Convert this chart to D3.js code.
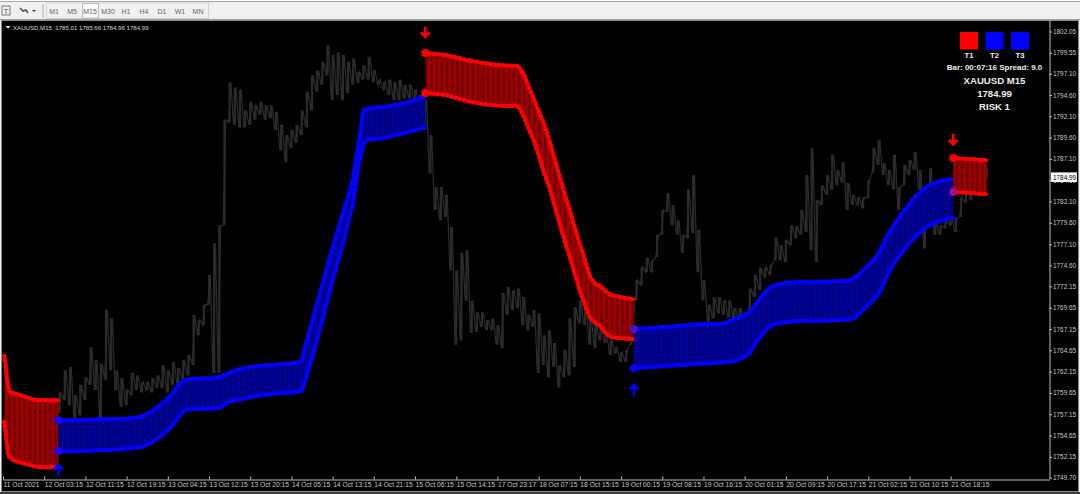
<!DOCTYPE html>
<html><head><meta charset="utf-8">
<script src="https://cdn.jsdelivr.net/npm/d3@7/dist/d3.min.js"></script>
<style>
html,body{margin:0;padding:0;background:#f0f0f0;overflow:hidden}
svg{display:block}
text{font-family:"Liberation Sans",Arial,sans-serif}
</style></head><body><svg id="c" width="1080" height="494"></svg>
<script>
const timeLabels=["11 Oct 2021","12 Oct 03:15","12 Oct 11:15","12 Oct 19:15","13 Oct 04:15","13 Oct 12:15","13 Oct 20:15","14 Oct 05:15","14 Oct 13:15","14 Oct 21:15","15 Oct 06:15","15 Oct 14:15","17 Oct 23:17","18 Oct 07:15","18 Oct 15:15","19 Oct 00:15","19 Oct 08:15","19 Oct 16:15","20 Oct 01:15","20 Oct 09:15","20 Oct 17:15","21 Oct 02:15","21 Oct 10:15","21 Oct 18:15"];
const priceLabels=["1802.05","1799.55","1797.10","1794.60","1792.10","1789.60","1787.10","1784.60","1782.10","1779.60","1777.10","1774.60","1772.15","1769.65","1767.15","1764.65","1762.15","1759.65","1757.15","1754.65","1752.15","1749.70"];
const periods=["M1","M5","M15","M30","H1","H4","D1","W1","MN"];
const trendLabels=["T1","T2","T3"];
const trendColors=["#ff0000","#0000ff","#0000ff"];

// Price highs/lows, one reading every 4 bars starting at bar 44
const priceHigh=[1759.7,1762.3,1762.7,1759.4,1760.6,1761.5,1765.0,1763.5,1763.1,1769.4,1768.4,1762.3,1761.4,1760.0,1762.0,1761.7,1760.9,1760.9,1761.4,1761.7,1762.9,1762.3,1763.3,1762.6,1763.5,1764.1,1768.8,1768.2,1770.0,1773.5,1777.2,1779.3,1791.7,1796.1,1795.5,1795.2,1792.8,1793.8,1793.4,1793.8,1793.4,1793.4,1792.6,1791.1,1789.9,1790.5,1791.1,1792.8,1795.0,1796.9,1797.5,1798.5,1800.5,1799.3,1799.6,1799.3,1798.5,1798.9,1797.3,1798.1,1799.1,1797.5,1796.4,1796.1,1796.4,1796.1,1796.4,1795.8,1795.8,1795.2,1794.6,1794.0,1789.9,1783.8,1783.8,1782.9,1779.1,1774.0,1776.1,1776.4,1770.5,1769.1,1769.1,1768.2,1768.4,1767.6,1771.4,1772.1,1771.7,1771.9,1770.9,1768.8,1769.4,1769.0,1766.4,1767.0,1765.5,1762.9,1764.7,1768.4,1769.7,1770.5,1770.0,1768.8,1767.6,1767.4,1766.7,1765.8,1765.0,1764.4,1764.7,1766.4,1772.9,1774.4,1775.5,1775.2,1778.2,1781.1,1783.1,1781.7,1779.9,1778.2,1783.5,1785.2,1778.8,1772.9,1770.0,1770.9,1770.9,1770.5,1770.5,1769.6,1769.6,1769.1,1771.9,1773.5,1774.3,1774.4,1774.7,1777.9,1777.0,1777.6,1779.3,1779.2,1781.1,1785.2,1788.4,1782.3,1784.0,1785.2,1787.6,1785.8,1786.7,1784.3,1782.9,1782.6,1782.6,1784.6,1788.4,1789.3,1786.6,1785.8,1787.6,1783.8,1786.4,1787.0,1787.9,1785.8,1782.3,1786.0,1779.6,1779.3,1779.9,1780.5,1780.2,1782.6,1783.5,1784.6,1785.2,1785.8,1786.0];
const priceLow=[1757.3,1758.8,1758.2,1756.7,1757.0,1758.8,1760.6,1760.0,1756.7,1761.2,1762.3,1760.0,1758.0,1758.2,1759.4,1760.0,1759.7,1760.0,1759.7,1760.2,1760.2,1759.7,1760.6,1760.6,1761.2,1761.7,1762.9,1766.4,1767.6,1770.0,1762.0,1762.0,1779.3,1791.4,1791.1,1790.8,1790.8,1791.1,1791.7,1792.3,1791.7,1791.9,1790.5,1788.1,1786.7,1788.4,1789.0,1789.9,1790.8,1792.8,1795.0,1795.8,1796.9,1794.0,1794.6,1794.0,1794.8,1795.8,1796.0,1796.4,1796.4,1796.1,1795.8,1795.2,1794.6,1794.0,1794.0,1794.2,1794.2,1794.0,1793.4,1790.5,1785.4,1781.1,1779.9,1780.3,1774.0,1765.3,1765.8,1770.5,1766.7,1766.8,1767.4,1767.0,1767.0,1765.3,1764.9,1768.8,1769.4,1769.6,1767.6,1767.0,1767.4,1762.0,1762.9,1761.5,1762.7,1760.3,1761.5,1761.7,1762.7,1767.8,1767.6,1765.3,1764.9,1765.8,1765.5,1764.1,1764.3,1763.3,1763.3,1765.3,1770.5,1772.3,1773.8,1773.8,1775.6,1778.2,1780.9,1779.3,1778.2,1776.1,1777.8,1778.4,1773.8,1770.5,1768.0,1768.4,1769.0,1768.8,1768.5,1768.4,1768.2,1768.4,1769.0,1770.9,1771.7,1773.2,1773.5,1775.2,1775.2,1775.0,1777.0,1777.8,1778.2,1778.5,1776.4,1775.0,1781.7,1782.9,1783.5,1784.0,1784.3,1781.1,1781.7,1781.7,1781.3,1782.5,1785.5,1786.4,1785.2,1784.0,1783.5,1781.1,1784.0,1785.2,1785.8,1783.5,1776.6,1782.3,1778.2,1778.2,1779.0,1779.3,1778.5,1780.3,1782.0,1782.3,1783.5,1783.5,1784.9];

// Trend bands
const red1Bars=[1,2,3,4,5,6,8,12,16,20,24,28,32,36,40,43];
const red1Upper=[1763.97,1763.03,1761.62,1760.45,1759.86,1759.74,1759.62,1759.45,1759.27,1759.04,1758.86,1758.80,1758.80,1758.80,1758.80,1758.80];
const red1Lower=[1756.22,1755.05,1753.64,1752.46,1752.11,1751.99,1751.76,1751.53,1751.41,1751.23,1751.06,1750.94,1750.94,1750.94,1750.94,1750.94];

const blue1Bars=[43,52,60,68,76,84,92,100,108,116,124,132,136,140,144,152,160,168,176,184,192,200,208,216,224,232,236,240,244,248,252,256,260,264,268,272,276,280,284,288,296,304,312,320,328];
const blue1Upper=[1756.45,1756.45,1756.45,1756.51,1756.57,1756.57,1756.57,1756.69,1756.87,1757.51,1758.45,1759.62,1760.56,1761.09,1761.27,1761.33,1761.38,1761.50,1762.03,1762.44,1762.68,1762.85,1762.91,1763.03,1763.09,1763.38,1765.84,1767.96,1770.19,1772.30,1774.53,1776.64,1778.76,1780.75,1782.63,1784.98,1788.73,1792.84,1793.07,1793.13,1793.19,1793.43,1793.66,1794.01,1794.48];
const blue1Lower=[1752.82,1752.76,1752.82,1752.88,1752.93,1752.93,1753.05,1753.17,1753.29,1753.87,1754.69,1755.87,1756.69,1757.51,1757.75,1757.80,1757.80,1757.86,1758.68,1758.86,1759.15,1759.39,1759.51,1759.62,1759.68,1759.86,1761.74,1763.73,1765.84,1768.19,1770.54,1772.89,1775.00,1777.23,1779.69,1781.92,1786.38,1788.97,1789.44,1789.44,1789.55,1789.85,1790.14,1790.49,1790.84];

const red2Bars=[328,336,344,352,360,368,376,384,392,400,404,408,412,416,420,424,428,432,436,440,444,448,452,456,460,464,468,472,480,488,490];
const red2Upper=[1799.53,1799.41,1799.29,1799.00,1798.71,1798.47,1798.30,1798.12,1798.06,1798.00,1797.18,1795.66,1794.25,1792.72,1791.31,1789.44,1787.32,1785.21,1783.10,1781.22,1779.11,1777.11,1775.23,1773.24,1772.42,1772.18,1771.60,1771.13,1770.89,1770.66,1770.66];
const red2Lower=[1794.83,1794.72,1794.60,1794.25,1793.90,1793.66,1793.48,1793.37,1793.31,1793.31,1792.25,1790.73,1789.32,1787.56,1785.56,1783.92,1781.81,1779.69,1777.58,1775.70,1773.71,1771.60,1769.95,1768.43,1767.84,1767.49,1766.67,1766.20,1766.08,1765.96,1765.96];

const blue2Bars=[490,496,504,512,520,528,536,544,552,560,568,576,580,584,588,592,596,600,608,616,624,632,640,648,656,660,664,668,672,676,680,684,688,692,696,700,704,708,712,716,720,728,736,738];
const blue2Upper=[1767.14,1767.19,1767.25,1767.37,1767.43,1767.55,1767.66,1767.72,1767.72,1767.78,1768.31,1768.78,1769.13,1769.95,1770.77,1771.48,1772.06,1772.30,1772.53,1772.65,1772.65,1772.65,1772.71,1772.77,1772.83,1773.00,1773.47,1774.06,1774.65,1775.23,1775.94,1777.23,1778.40,1779.34,1780.28,1781.10,1781.81,1782.63,1783.10,1783.68,1784.04,1784.51,1784.74,1784.74];
const blue2Lower=[1762.56,1762.62,1762.67,1762.79,1762.85,1762.91,1763.03,1763.09,1763.14,1763.26,1763.38,1763.85,1764.32,1765.37,1766.20,1766.90,1767.49,1767.72,1767.96,1768.07,1768.07,1768.07,1768.13,1768.19,1768.25,1768.31,1768.78,1769.37,1769.95,1770.54,1771.24,1772.53,1773.83,1774.88,1775.70,1776.41,1777.23,1777.82,1778.40,1778.99,1779.34,1779.81,1780.16,1780.16];

const red3Bars=[738,744,752,760,764];
const red3Upper=[1787.21,1787.15,1787.09,1786.97,1786.97];
const red3Lower=[1783.21,1783.16,1783.10,1782.98,1782.98];

const arrowBars=[328,738,43,490];
const arrowPrices=[1802.0,1789.4,1750.6,1760.0];
const arrowDirs=["down","down","up","up"];
const lastPrice=1784.99;

const W=1080,H=494,barsPerTick=32;
const svg=d3.select("#c");
const x=d3.scaleLinear().domain([0,barsPerTick*23]).range([3,950.7]);
const y=d3.scaleLinear().domain([1749.70,1802.05]).range([477.7,31.5]);

// window chrome
svg.append("rect").attr("width",W).attr("height",H).attr("fill","#f0f0f0");
svg.append("rect").attr("x",0).attr("y",0).attr("width",W).attr("height",1).attr("fill","#fff");
svg.append("rect").attr("x",0).attr("y",1).attr("width",W).attr("height",1).attr("fill","#a8a8a8");
const tb=svg.append("g");
tb.append("rect").attr("x",2).attr("y",6).attr("width",8).attr("height",9).attr("fill","none").attr("stroke","#777");
tb.append("text").attr("x",6).attr("y",14).attr("text-anchor","middle").attr("font-size",8).attr("fill","#555").text("T");
tb.append("path").attr("d","M20 8l3 3l3-1l2 3").attr("fill","none").attr("stroke","#555").attr("stroke-width",1.6);
tb.append("path").attr("d","M32 10h4l-2 2z").attr("fill","#333");
tb.append("rect").attr("x",42).attr("y",4).attr("width",2).attr("height",14).attr("fill","#cfcfcf");
tb.append("rect").attr("x",46.5).attr("y",3).attr("width",162).attr("height",15.5).attr("fill","none").attr("stroke","#d4d4d4");
const perX=d3.scalePoint().domain(periods).range([54,198]);
tb.append("rect").attr("x",82.5).attr("y",3.5).attr("width",16).attr("height",14.5).attr("fill","#fafafa").attr("stroke","#bbb");
tb.selectAll("text.p").data(periods).join("text").attr("class","p").attr("x",d=>perX(d)).attr("y",14).attr("text-anchor","middle").attr("font-size",7).attr("fill","#666").text(d=>d);

// chart window
svg.append("rect").attr("x",0).attr("y",19).attr("width",W).attr("height",1).attr("fill","#a0a0a0");
svg.append("rect").attr("x",2).attr("y",20).attr("width",1076).attr("height",471).attr("fill","#000");
svg.append("rect").attr("x",1.5).attr("y",20.5).attr("width",1077).attr("height",471).attr("fill","none").attr("stroke","#8c8c8c");
svg.append("rect").attr("x",0).attr("y",492).attr("width",W).attr("height",2).attr("fill","#3a3a3a");

const defs=svg.append("defs");
function stripes(id,light,dark){
  const step=x(4)-x(0);
  const p=defs.append("pattern").attr("id",id).attr("patternUnits","userSpaceOnUse").attr("width",step).attr("height",10).attr("x",x(0));
  p.append("rect").attr("width",step).attr("height",10).attr("fill",light);
  p.append("rect").attr("width",step*0.42).attr("height",10).attr("fill",dark);
}
stripes("rs","#a00000","#6c0000");
stripes("bs","#0000a0","#000070");

// price series
const startBar=44,stepBar=4;
const bar=i=>startBar+i*stepBar;
const priceColor="#2b2b2b";
const pr=svg.append("g").attr("stroke",priceColor).attr("fill","none");
pr.selectAll("line").data(priceHigh).join("line")
 .attr("x1",(d,i)=>x(bar(i))).attr("x2",(d,i)=>x(bar(i)))
 .attr("y1",d=>y(d)).attr("y2",(d,i)=>y(priceLow[i])).attr("stroke-width",2.2);
const zig=[];
priceHigh.forEach((h,i)=>{zig.push([x(bar(i))-1.3,y(priceLow[i])]);zig.push([x(bar(i))+1.3,y(h)]);});
pr.append("path").attr("d",d3.line()(zig)).attr("stroke-width",1.2);

// bands
function band(bars,up,lo,cls,color,pat){
  const d=bars.map((b,i)=>({b,u:up[i],l:lo[i]}));
  const g=svg.append("g").attr("class",cls);
  g.append("path").attr("d",d3.area().x(e=>x(e.b)).y0(e=>y(e.l)).y1(e=>y(e.u))(d)).attr("fill",`url(#${pat})`);
  ["u","l"].forEach(k=>{
    const path=d3.line().x(e=>x(e.b)).y(e=>y(e[k]))(d);
    g.append("path").attr("d",path).attr("fill","none").attr("stroke",color).attr("stroke-width",3.2).attr("stroke-linejoin","round").attr("stroke-linecap","round");
    g.append("path").attr("d",path).attr("fill","none").attr("stroke",color).attr("stroke-width",4.6).attr("stroke-linecap","round").attr("stroke-dasharray","0 4.4");
  });
}
band(red1Bars,red1Upper,red1Lower,"red1","#ff0000","rs");
band(blue1Bars,blue1Upper,blue1Lower,"blue1","#0000ff","bs");
band(red2Bars,red2Upper,red2Lower,"red2","#ff0000","rs");
band(blue2Bars,blue2Upper,blue2Lower,"blue2","#0000ff","bs");
band(red3Bars,red3Upper,red3Lower,"red3","#ff0000","rs");

// trend-start dots
const starts=[[blue1Bars[0],blue1Upper[0],"#1a08ee"],[blue1Bars[0],blue1Lower[0],"#1a08ee"],[red2Bars[0],red2Upper[0],"#ff0000"],[red2Bars[0],red2Lower[0],"#ff0000"],[blue2Bars[0],blue2Upper[0],"#4412cc"],[blue2Bars[0],blue2Lower[0],"#0000ff"],[red3Bars[0],red3Upper[0],"#ff0000"],[red3Bars[0],red3Lower[0],"#a0108c"]];
svg.selectAll("circle.st").data(starts).join("circle").attr("class","st").attr("cx",d=>x(d[0])).attr("cy",d=>y(d[1])).attr("r",4).attr("fill",d=>d[2]);

// arrows
const ag=svg.append("g").attr("fill","none").attr("stroke-width",2.6);
arrowBars.forEach((b,i)=>{
  const px=x(b),py=y(arrowPrices[i]),dir=arrowDirs[i];
  const s=dir==="down"?1:-1;
  ag.append("path").attr("d",`M${px} ${py-5.5*s}V${py+5*s}M${px-4.5} ${py+0.5*s}L${px} ${py+5*s}L${px+4.5} ${py+0.5*s}`).attr("stroke",dir==="down"?"#ff0000":"#0000ff");
});

// axes
const yAxis=d3.axisRight(y).tickValues(priceLabels.map(Number)).tickFormat((d,i)=>priceLabels[i]).tickSize(2.5).tickPadding(1);
const yg=svg.append("g").attr("transform","translate(1049.5,0)").call(yAxis);
yg.select(".domain").attr("d","M0.5 20V479").attr("stroke","#c0c0c0");
yg.selectAll("line").attr("stroke","#c0c0c0");
yg.selectAll("text").attr("fill","#c8c8c8").attr("font-size",6.4);
const xAxis=d3.axisBottom(x).tickValues(timeLabels.map((d,i)=>i*barsPerTick)).tickFormat((d,i)=>timeLabels[i]).tickSize(3).tickPadding(1.5);
const xg=svg.append("g").attr("transform","translate(0,479.5)").call(xAxis);
xg.select(".domain").attr("d","M3 0.5H1050").attr("stroke","#c0c0c0");
xg.selectAll("line").attr("stroke","#c0c0c0").attr("y1",-3).attr("y2",0);
xg.selectAll("text").attr("fill","#c8c8c8").attr("font-size",6.7).attr("text-anchor","start").attr("y",3);
svg.selectAll(".tick text").attr("font-family",'"Liberation Sans",Arial,sans-serif');

// last price tag
const py=y(lastPrice);
svg.append("rect").attr("x",1051).attr("y",py-4.5).attr("width",26).attr("height",9.5).attr("fill","#fff");
svg.append("text").attr("x",1053).attr("y",py+2.6).attr("font-size",6.4).attr("fill","#000").text(lastPrice.toFixed(2));

// header
svg.append("path").attr("d","M5.5 26h5l-2.5 2.5z").attr("fill","#fff");
svg.append("text").attr("x",13).attr("y",29.5).attr("font-size",6.1).attr("fill","#d8d8d8").attr("xml:space","preserve").text("XAUUSD,M15  1785.01 1785.66 1784.96 1784.99");

// info panel
const tx=d3.scalePoint().domain(trendLabels).range([969,1020]);
svg.selectAll("rect.t").data(trendLabels).join("rect").attr("class","t").attr("x",d=>tx(d)-9).attr("y",32).attr("width",18).attr("height",17.5).attr("fill",(d,i)=>trendColors[i]);
svg.selectAll("text.t").data(trendLabels).join("text").attr("class","t").attr("x",d=>tx(d)).attr("y",57.5).attr("text-anchor","middle").attr("font-size",7.6).attr("font-weight","bold").attr("fill","#eee").text(d=>d);
const info=[["Bar: 00:07:16 Spread: 9.0",70,8],["XAUUSD M15",83.5,9.6],["1784.99",96.5,9.6],["RISK 1",109.5,9.6]];
svg.selectAll("text.i").data(info).join("text").attr("class","i").attr("x",994.5).attr("y",d=>d[1]).attr("text-anchor","middle").attr("font-size",d=>d[2]).attr("font-weight","bold").attr("fill","#eee").text(d=>d[0]);
</script></body></html>
